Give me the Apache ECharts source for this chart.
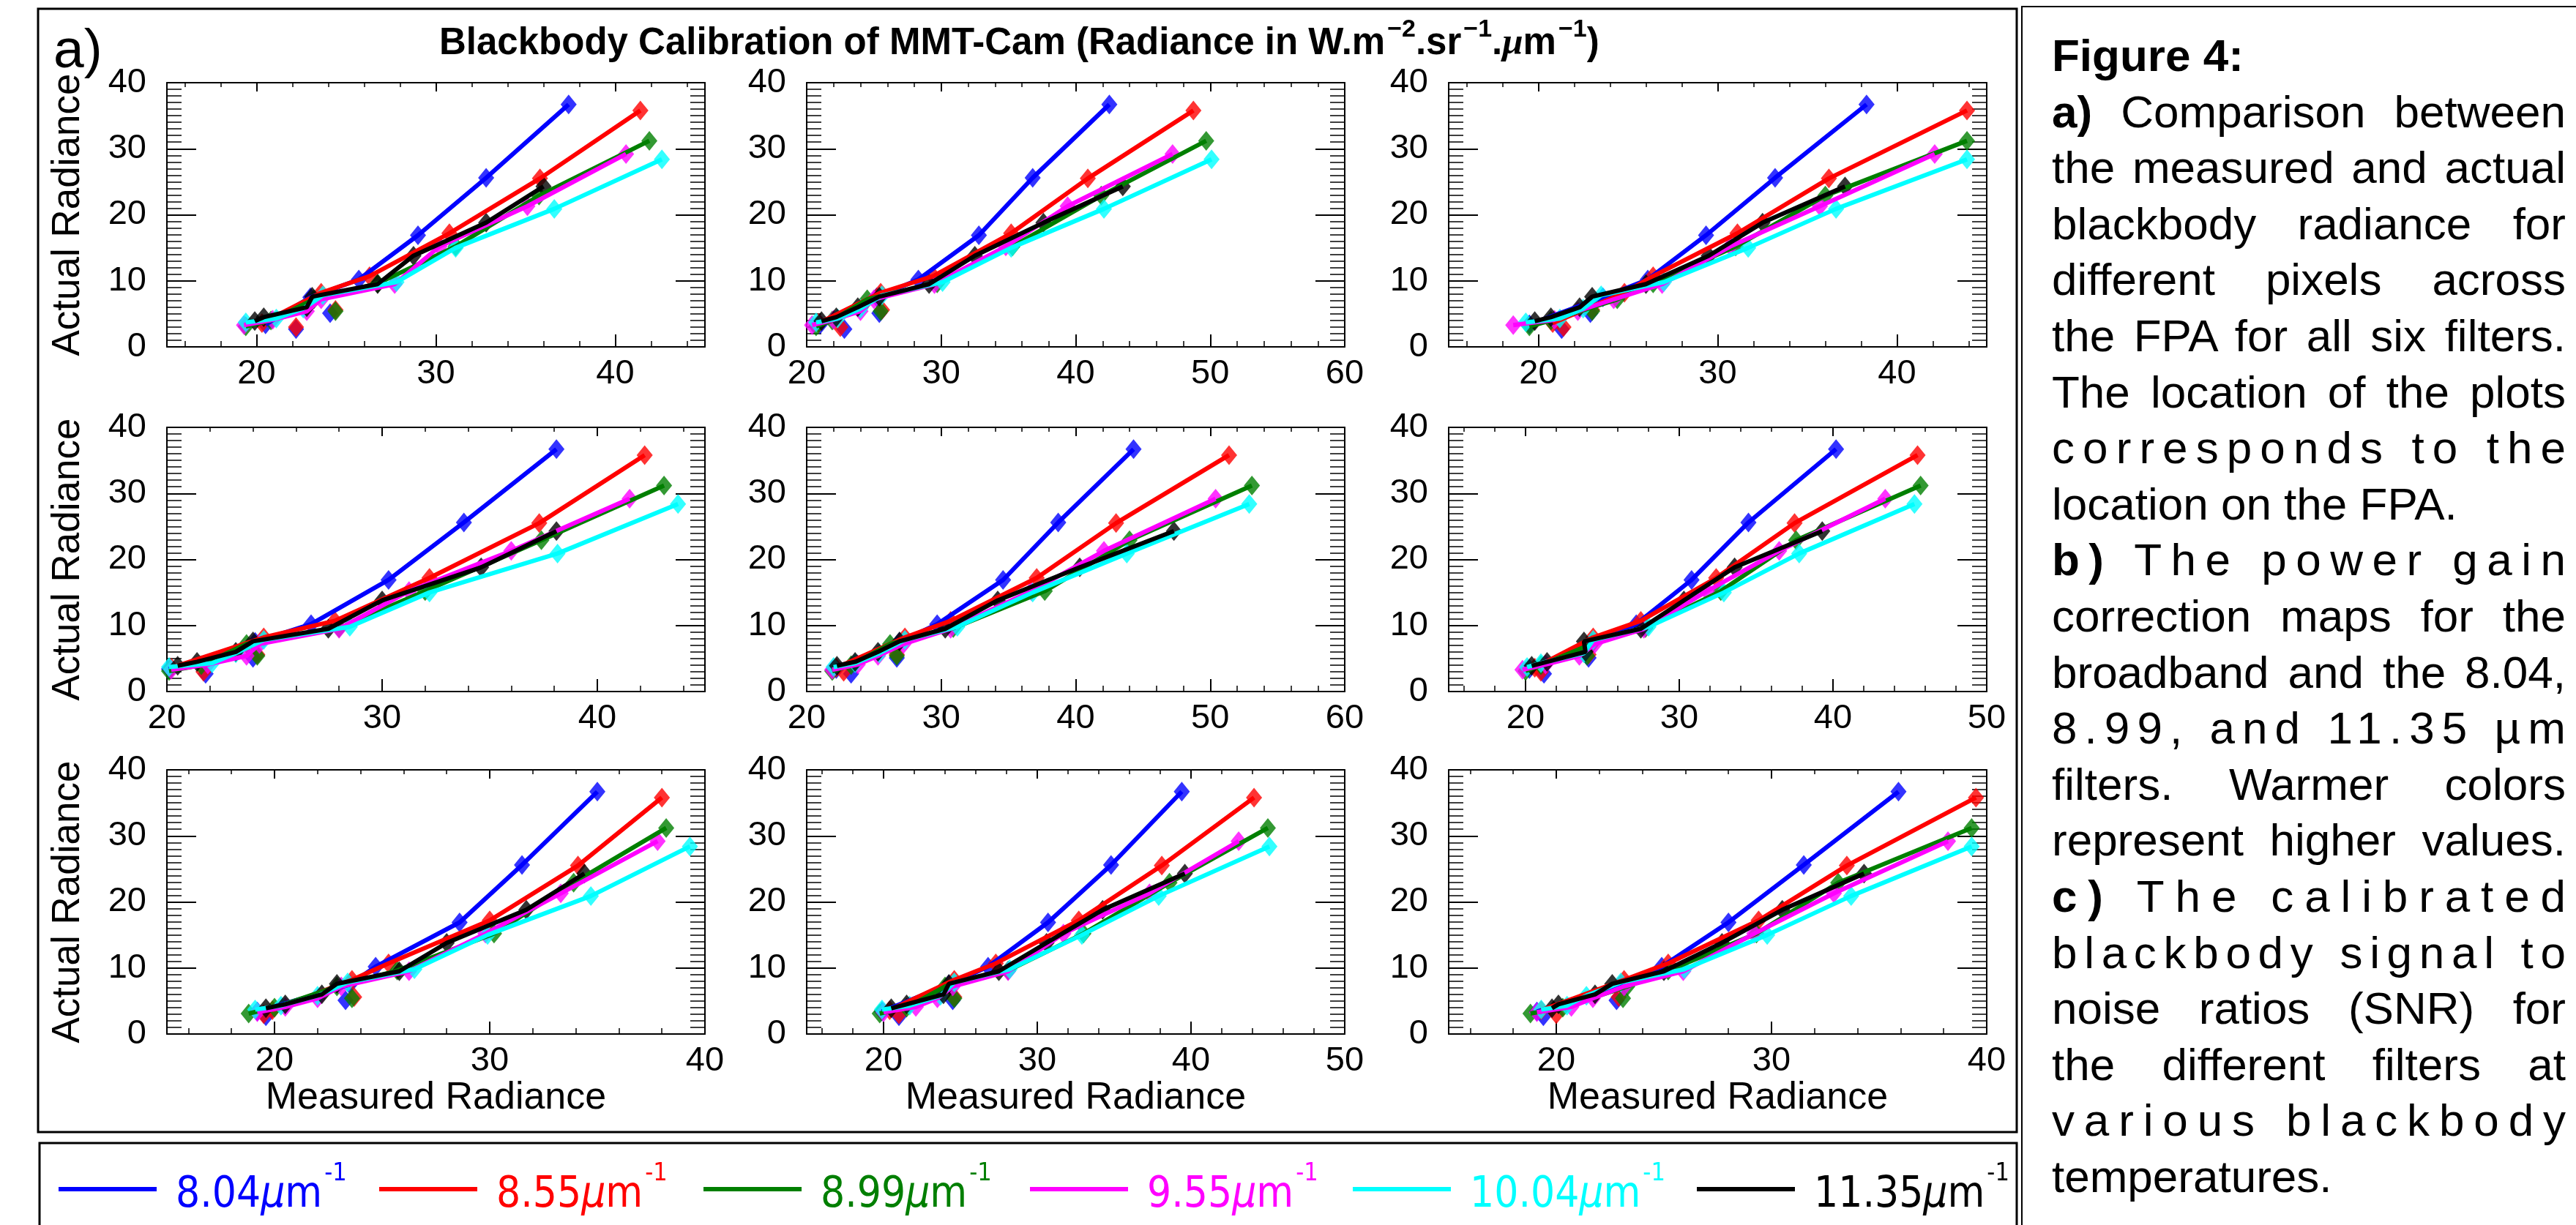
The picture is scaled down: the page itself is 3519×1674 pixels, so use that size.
<!DOCTYPE html>
<html>
<head>
<meta charset="utf-8">
<script src="https://cdn.jsdelivr.net/npm/echarts@6/dist/echarts.min.js"></script>
<style>
  html, body { margin: 0; padding: 0; background: #fff; }
  #chart { position: absolute; left: 0; top: 0; width: 3519px; height: 1674px; }
  #caption { position: absolute; left: 2803px; top: 0; width: 702px; z-index: 2;
             font-family: 'Liberation Sans', Arial, sans-serif; font-size: 62px; color: #000; }
  #caption div { position: absolute; left: 0; white-space: nowrap; line-height: 76.6px; height: 76.6px; }
</style>
</head>
<body>
<div id="chart"></div>
<div id="caption"></div>
<script>
const FILTERS = ['8.04', '8.55', '8.99', '9.55', '10.04', '11.35'];
const COLORS = ['#0000ff', '#ff0000', '#007f00', '#ff00ff', '#00ffff', '#000000'];

// actual blackbody radiance at the 8 temperatures, one row per filter
const ACTUAL = [
  [3.4, 2.7, 5.1, 7.5, 10.2, 16.9, 25.6, 36.7],
  [3.6, 3.0, 5.6, 8.2, 10.7, 17.2, 25.5, 35.8],
  [3.1, 4.0, 5.4, 7.2, 9.6, 15.2, 22.9, 31.2],
  [3.3, 4.1, 5.4, 7.2, 9.5, 15.2, 21.3, 29.2],
  [3.7, 4.3, 5.8, 7.8, 9.8, 15.0, 20.9, 28.4],
  [3.9, 4.5, 6.0, 7.6, 9.5, 13.8, 18.8, 24.3]
];
// 1 = the point sits on the fitted curve, 0 = off it
const ON_FIT = [
  [1, 0, 0, 1, 1, 1, 1, 1],
  [1, 0, 0, 1, 1, 1, 1, 1],
  [1, 1, 0, 1, 1, 1, 1, 1],
  [1, 1, 1, 1, 1, 1, 1, 1],
  [1, 1, 1, 1, 1, 1, 1, 1],
  [1, 1, 1, 1, 1, 1, 1, 1]
];

// measured radiance per panel (row by row), one row per filter
const MEASURED_1 = [
  [20.5, 22.2, 24.1, 23.0, 25.7, 29.0, 32.8, 37.4],
  [20.3, 22.2, 24.4, 23.6, 26.3, 30.75, 35.8, 41.4],
  [19.4, 20.8, 24.4, 23.2, 26.75, 31.1, 35.75, 41.9],
  [19.3, 20.9, 22.8, 23.6, 27.7, 30.2, 35.1, 40.6],
  [19.4, 21.1, 22.6, 23.7, 27.8, 31.1, 36.6, 42.6],
  [19.9, 20.4, 22.8, 23.1, 26.75, 28.75, 32.8, 36.0]
];
const MEASURED_2 = [
  [21.0, 22.8, 25.4, 25.2, 28.3, 32.8, 36.8, 42.5],
  [20.9, 22.5, 25.6, 25.5, 29.4, 35.2, 40.9, 48.75],
  [20.7, 21.9, 25.5, 24.5, 29.7, 35.3, 41.9, 49.7],
  [20.4, 22.0, 24.0, 25.0, 29.5, 34.8, 39.4, 47.2],
  [20.7, 22.3, 24.0, 25.6, 30.1, 35.2, 42.1, 50.1],
  [21.1, 22.2, 23.8, 25.4, 29.1, 32.5, 37.6, 43.5]
];
const MEASURED_3 = [
  [19.5, 21.3, 22.9, 23.6, 26.1, 29.35, 33.2, 38.3],
  [20.8, 21.4, 23.0, 24.8, 26.4, 31.1, 36.2, 43.9],
  [19.5, 20.7, 23.0, 24.4, 26.4, 31.0, 36.0, 43.9],
  [18.6, 20.9, 22.2, 24.2, 26.9, 30.7, 35.7, 42.1],
  [19.3, 21.2, 22.5, 23.5, 27.0, 31.7, 36.6, 43.9],
  [19.8, 20.7, 22.3, 23.0, 26.0, 29.5, 32.5, 37.1]
];
const MEASURED_4 = [
  [20.1, 21.8, 24.0, 24.1, 26.7, 30.3, 33.8, 38.1],
  [20.2, 21.7, 24.2, 24.5, 27.8, 32.2, 37.3, 42.2],
  [20.1, 21.6, 24.2, 23.7, 28.0, 32.0, 37.4, 43.1],
  [20.2, 21.9, 23.7, 24.3, 28.0, 31.25, 36.0, 41.5],
  [20.1, 22.1, 23.2, 24.5, 28.5, 32.2, 38.15, 43.75],
  [20.5, 21.4, 23.2, 24.0, 27.5, 30.0, 34.6, 38.1]
];
const MEASURED_5 = [
  [22.2, 23.3, 26.7, 26.9, 29.7, 34.6, 38.7, 44.3],
  [22.2, 22.75, 26.7, 27.3, 30.7, 37.1, 43.0, 51.4],
  [21.9, 23.3, 26.7, 26.2, 30.9, 37.7, 44.0, 53.1],
  [21.9, 23.8, 25.3, 27.2, 30.7, 36.7, 42.1, 50.4],
  [22.0, 23.6, 25.4, 27.3, 31.2, 36.8, 43.8, 52.9],
  [22.25, 23.6, 25.3, 26.9, 30.3, 34.2, 40.3, 47.3]
];
const MEASURED_6 = [
  [20.25, 21.2, 24.1, 24.3, 27.2, 30.8, 34.5, 40.2],
  [20.6, 21.0, 24.1, 24.4, 27.5, 32.4, 37.5, 45.5],
  [20.0, 21.0, 24.0, 24.3, 27.8, 32.7, 37.6, 45.7],
  [19.8, 21.3, 23.5, 24.5, 27.7, 31.8, 36.5, 43.4],
  [20.1, 21.0, 23.8, 24.4, 28.0, 32.9, 37.8, 45.3],
  [20.4, 21.4, 23.9, 23.8, 27.5, 30.3, 33.6, 39.3]
];
const MEASURED_7 = [
  [19.2, 19.6, 23.3, 23.5, 24.7, 28.6, 31.5, 35.0],
  [19.9, 19.5, 23.7, 23.6, 25.3, 30.0, 34.1, 38.0],
  [18.8, 20.0, 23.6, 22.9, 25.7, 30.2, 33.9, 38.2],
  [19.2, 20.5, 22.0, 23.1, 26.25, 29.8, 33.3, 37.8],
  [19.1, 20.3, 22.0, 23.4, 26.5, 29.9, 34.7, 39.3],
  [19.6, 20.5, 22.2, 22.9, 25.8, 28.0, 31.7, 34.4]
];
const MEASURED_8 = [
  [19.9, 21.0, 24.5, 24.25, 26.8, 30.7, 34.8, 39.4],
  [20.4, 21.0, 24.6, 24.6, 27.3, 32.7, 38.1, 44.1],
  [19.75, 21.5, 24.6, 24.0, 28.1, 33.0, 38.6, 45.0],
  [20.0, 22.1, 23.5, 24.5, 28.1, 31.7, 37.3, 43.1],
  [19.9, 21.7, 23.7, 24.6, 28.2, 32.9, 37.9, 45.1],
  [20.5, 21.5, 23.9, 24.25, 27.5, 30.6, 34.25, 39.6]
];
const MEASURED_9 = [
  [19.1, 19.4, 22.8, 23.0, 24.9, 28.0, 31.5, 35.9],
  [19.3, 20.0, 22.9, 23.15, 25.2, 29.4, 33.5, 39.5],
  [18.8, 20.3, 23.1, 23.3, 25.2, 29.3, 33.1, 39.3],
  [19.1, 20.7, 21.7, 23.15, 25.9, 29.2, 32.9, 38.2],
  [19.3, 20.5, 21.4, 23.0, 25.95, 29.8, 33.7, 39.3],
  [19.8, 20.1, 21.8, 22.6, 25.0, 27.7, 30.5, 34.3]
];
const PANELS = [MEASURED_1, MEASURED_2, MEASURED_3, MEASURED_4, MEASURED_5,
                MEASURED_6, MEASURED_7, MEASURED_8, MEASURED_9];

const X_RANGES = [[15, 45], [20, 60], [15, 45], [20, 45], [20, 60], [15, 50], [15, 40], [15, 50], [15, 40]];
const X_TICK_LABELS = [
  [20, 30, 40], [20, 30, 40, 50, 60], [20, 30, 40],
  [20, 30, 40], [20, 30, 40, 50, 60], [20, 30, 40, 50],
  [20, 30, 40], [20, 30, 40, 50], [20, 30, 40]
];
const Y_RANGE = [0, 40];
const Y_STEP = 10;

const CAPTION = [
  ['L', 'Figure 4:', ''],
  ['J', 'a)', ' Comparison between'],
  ['J', '', 'the measured and actual'],
  ['J', '', 'blackbody radiance for'],
  ['J', '', 'different pixels across'],
  ['J', '', 'the FPA for all six filters.'],
  ['J', '', 'The location of the plots'],
  ['S', '', 'corresponds to the'],
  ['L', '', 'location on the FPA.'],
  ['S', 'b)', ' The power gain'],
  ['J', '', 'correction maps for the'],
  ['J', '', 'broadband and the 8.04,'],
  ['S', '', '8.99, and 11.35 µm'],
  ['J', '', 'filters. Warmer colors'],
  ['J', '', 'represent higher values.'],
  ['S', 'c)', ' The calibrated'],
  ['S', '', 'blackbody signal to'],
  ['J', '', 'noise ratios (SNR) for'],
  ['J', '', 'the different filters at'],
  ['S', '', 'various blackbody'],
  ['L', '', 'temperatures.']
];

const FONT = "'Liberation Sans', Arial, Helvetica, sans-serif";
const NARROW = "'Liberation Sans Narrow', 'DejaVu Sans Condensed', 'Liberation Sans', sans-serif";
const GRID_LEFT = [228, 1102, 1979];
const GRID_TOP = [113, 584, 1052];
const GRID_W = 735, GRID_H = 361;

// every axis needs its own style object, a shared one loses the ticks
const ink = (w) => ({ color: '#000', width: w });

const grid = [], xAxis = [], yAxis = [], series = [];

PANELS.forEach((panel, p) => {
  const row = Math.floor(p / 3), col = p % 3;
  grid.push({ left: GRID_LEFT[col], top: GRID_TOP[row], width: GRID_W, height: GRID_H });

  const [xmin, xmax] = X_RANGES[p];
  const minor = [];
  for (let v = Math.ceil(xmin); v <= xmax; v++) {
    if (v % 2 === 0 && v % 10 !== 0) minor.push(v);
  }
  const base = () => ({ type: 'value', gridIndex: p, min: xmin, max: xmax, splitLine: { show: false } });

  xAxis.push(Object.assign(base(), {
    position: 'bottom',
    axisLine: { show: true, onZero: false, lineStyle: ink(2) },
    axisTick: { show: true, inside: true, length: 17, customValues: X_TICK_LABELS[p], lineStyle: ink(2) },
    axisLabel: { show: true, customValues: X_TICK_LABELS[p], margin: 14, fontSize: 47, color: '#000', fontFamily: FONT },
    name: row === 2 ? 'Measured Radiance' : '',
    nameLocation: 'middle', nameGap: 59,
    nameTextStyle: { fontSize: 52, color: '#000', fontFamily: FONT }
  }));
  xAxis.push(Object.assign(base(), {
    position: 'bottom',
    axisLine: { show: false, onZero: false },
    axisTick: { show: true, inside: true, length: 8, customValues: minor, lineStyle: ink(1.5) },
    axisLabel: { show: false }
  }));
  xAxis.push(Object.assign(base(), {
    position: 'top',
    axisLine: { show: true, onZero: false, lineStyle: ink(2) },
    axisTick: { show: true, inside: true, length: 12, customValues: X_TICK_LABELS[p], lineStyle: ink(2) },
    axisLabel: { show: false }
  }));
  xAxis.push(Object.assign(base(), {
    position: 'top',
    axisLine: { show: false, onZero: false },
    axisTick: { show: true, inside: true, length: 6, customValues: minor, lineStyle: ink(1.5) },
    axisLabel: { show: false }
  }));

  const ybase = () => ({
    type: 'value', gridIndex: p, min: Y_RANGE[0], max: Y_RANGE[1], interval: Y_STEP,
    splitLine: { show: false },
    axisLine: { show: true, onZero: false, lineStyle: ink(2) },
    axisTick: { show: true, inside: true, length: 40, lineStyle: ink(2) },
    minorTick: { show: true, splitNumber: 10, length: 20, lineStyle: ink(1.5) }
  });
  yAxis.push(Object.assign(ybase(), {
    position: 'left',
    axisLabel: { show: true, margin: 28, fontSize: 47, color: '#000', fontFamily: FONT },
    name: col === 0 ? 'Actual Radiance' : '',
    nameLocation: 'middle', nameGap: 108,
    nameTextStyle: { fontSize: 53, color: '#000', fontFamily: FONT }
  }));
  yAxis.push(Object.assign(ybase(), { position: 'right', axisLabel: { show: false } }));

  panel.forEach((xs, f) => {
    const pts = xs.map((x, i) => [x, ACTUAL[f][i]]);
    series.push({
      type: 'line', name: FILTERS[f], xAxisIndex: 4 * p, yAxisIndex: 2 * p,
      data: pts.filter((_, i) => ON_FIT[f][i]),
      showSymbol: false, silent: true,
      lineStyle: { color: COLORS[f], width: 6 }, itemStyle: { color: COLORS[f] }
    });
    series.push({
      type: 'scatter', name: FILTERS[f], xAxisIndex: 4 * p, yAxisIndex: 2 * p,
      data: pts, symbol: 'diamond', symbolSize: [22, 27], silent: true,
      itemStyle: { color: COLORS[f] }
    });
  });
});

// one legend block per filter, coloured text with a raised superscript
const LEGEND_LEFT = [80, 518, 961, 1407, 1848, 2318];
const legend = FILTERS.map((name, f) => ({
  left: LEGEND_LEFT[f], top: 1587, padding: 0, orient: 'horizontal',
  data: [name], icon: 'rect', itemWidth: 134, itemHeight: 6, selectedMode: false,
  formatter: n => '{h|\u200b}{t|' + n + '}{m|μ}{u|m}{s|-1}',
  textStyle: {
    rich: {
      h: { fontSize: 2, lineHeight: 76 },
      t: { color: COLORS[f], fontSize: 58, lineHeight: 58, fontFamily: NARROW, verticalAlign: 'bottom', padding: [0, 0, 0, 21] },
      m: { color: COLORS[f], fontSize: 58, lineHeight: 58, fontFamily: NARROW, fontStyle: 'italic', verticalAlign: 'bottom' },
      u: { color: COLORS[f], fontSize: 58, lineHeight: 58, fontFamily: NARROW, verticalAlign: 'bottom' },
      s: { color: COLORS[f], fontSize: 34, lineHeight: 34, fontFamily: NARROW, verticalAlign: 'top', padding: [0, 0, 0, 3] }
    }
  }
}));

const chart = echarts.init(document.getElementById('chart'), null, { renderer: 'canvas' });
chart.setOption({
  animation: false,
  backgroundColor: '#fff',
  textStyle: { fontFamily: FONT },
  title: {
    left: 600, top: 24, padding: 0,
    text: '{h|\u200b}{b|Blackbody Calibration of MMT-Cam (Radiance in W.m}{s|−2}{b|.sr}{s|−1}{b|.}{mu|μ}{b|m}{s|−1}{b|)}',
    textStyle: {
      rich: {
        h: { fontSize: 2, lineHeight: 61 },
        b: { fontSize: 51, lineHeight: 51, fontWeight: 'bold', color: '#000', fontFamily: FONT, verticalAlign: 'bottom' },
        s: { fontSize: 34, lineHeight: 34, fontWeight: 'bold', color: '#000', fontFamily: FONT, verticalAlign: 'top', padding: [0, 0, 0, 3] },
        mu: { fontSize: 51, lineHeight: 51, fontStyle: 'italic', color: '#000', fontFamily: "'Liberation Serif', serif", verticalAlign: 'bottom' }
      }
    }
  },
  legend: legend,
  grid: grid,
  xAxis: xAxis,
  yAxis: yAxis,
  series: series,
  graphic: [
    { type: 'rect', shape: { x: 52, y: 12, width: 2703, height: 1535 }, style: { fill: 'none', stroke: '#000', lineWidth: 3 }, silent: true },
    { type: 'rect', shape: { x: 54, y: 1562, width: 2701, height: 140 }, style: { fill: 'none', stroke: '#000', lineWidth: 3 }, silent: true },
    { type: 'rect', shape: { x: 2762, y: 9, width: 800, height: 1700 }, style: { fill: 'none', stroke: '#000', lineWidth: 2 }, silent: true },
    { type: 'text', x: 73, y: 71, silent: true,
      style: { text: 'a)', fontSize: 75, fontFamily: FONT, fill: '#000', verticalAlign: 'middle', align: 'left' } }
  ]
});

// caption panel, justified line by line like the original
const CAP_TOP = 38, CAP_PITCH = 76.6, CAP_WIDTH = 702;
const cap = document.getElementById('caption');
CAPTION.forEach(([mode, bold, rest], i) => {
  const line = document.createElement('div');
  line.style.top = (CAP_TOP + i * CAP_PITCH) + 'px';
  const inner = document.createElement('span');
  if (bold) {
    const b = document.createElement('b');
    b.textContent = bold;
    inner.appendChild(b);
  }
  inner.appendChild(document.createTextNode(rest));
  line.appendChild(inner);
  cap.appendChild(line);
  if (mode === 'L') return;
  const text = bold + rest;
  const extra = CAP_WIDTH - inner.getBoundingClientRect().width;
  if (mode === 'J') {
    const spaces = (text.match(/ /g) || []).length;
    line.style.wordSpacing = (extra / spaces) + 'px';
  } else {
    line.style.letterSpacing = (extra / (text.length - 1)) + 'px';
  }
});
</script>
</body>
</html>
